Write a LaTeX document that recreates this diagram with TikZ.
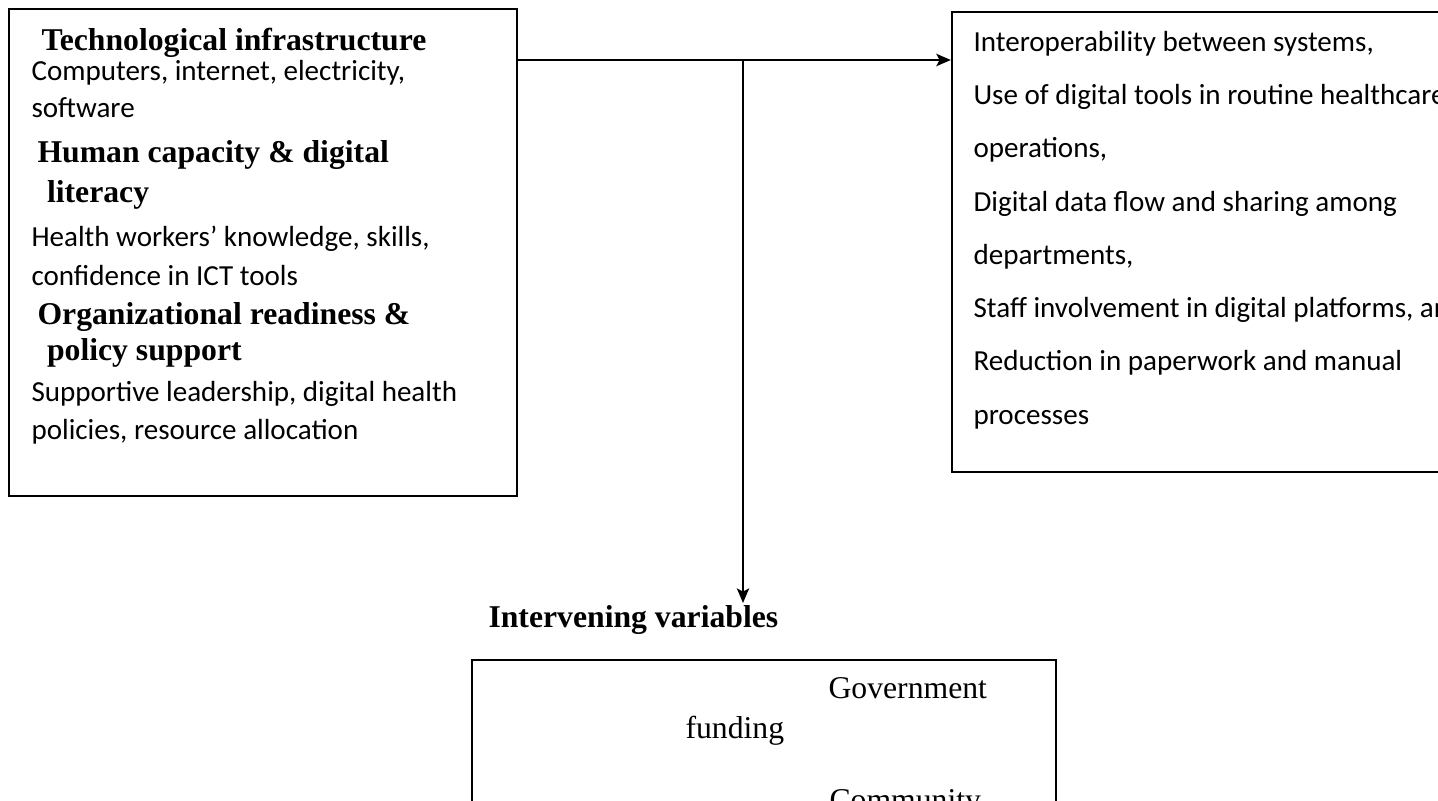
\documentclass[tikz,border=0pt]{standalone}
\usepackage{fontspec}
\setmainfont{Liberation Serif}
\newfontfamily\calibrifont{Carlito}
\usetikzlibrary{arrows.meta,fit}
\begin{document}
\begin{tikzpicture}[x=0.3785pt,y=-0.3785pt,
  boxline/.style={draw=black, line width=0.8pt, inner sep=0pt},
  cal/.style={anchor=base west, inner sep=0pt, font=\calibrifont\fontsize{11}{13}\selectfont},
  hd/.style={anchor=base west, inner sep=0pt, font=\fontsize{12}{14}\selectfont\bfseries},
  tm/.style={anchor=base west, inner sep=0pt, font=\fontsize{12}{14}\selectfont},
  conn/.style={line width=0.9pt, -{Stealth[length=5.5pt,width=4.6pt,inset=1.2pt]}}]
\useasboundingbox (0,0) rectangle (1438,801);
\clip (0,0) rectangle (1438,801);
% boxes
\coordinate (L1) at (9,9); \coordinate (L2) at (517,496);
\node[boxline, fit=(L1)(L2)] (L) {};
\coordinate (R1) at (952,12); \coordinate (R2) at (1480,472);
\node[boxline, fit=(R1)(R2)] (R) {};
\coordinate (B1) at (472,660); \coordinate (B2) at (1056,850);
\node[boxline, fit=(B1)(B2)] (B) {};
% left box text
\node[hd]  (l1)  at (41,51)   {Technological infrastructure};
\node[cal] (l2)  at (31,81)   {Computers, internet, electricity,};
\node[cal] (l3)  at (31,118)  {software};
\node[hd]  (l4)  at (37,162)  {Human capacity \& digital};
\node[hd]  (l5)  at (46.5,203){literacy};
\node[cal] (l6)  at (31,246)  {Health workers’ knowledge, skills,};
\node[cal] (l7)  at (31,285)  {confidence in ICT tools};
\node[hd]  (l8)  at (37,324)  {Organizational readiness \&};
\node[hd]  (l9)  at (46.5,360){policy support};
\node[cal] (l10) at (31,401)  {Supportive leadership, digital health};
\node[cal] (l11) at (31,439)  {policies, resource allocation};
% right box text
\node[cal] (r1) at (973,52)  {Interoperability between systems,};
\node[cal] (r2) at (973,105) {Use of digital tools in routine healthcare};
\node[cal] (r3) at (973,158) {operations,};
\node[cal] (r4) at (973,211) {Digital data flow and sharing among};
\node[cal] (r5) at (973,264) {departments,};
\node[cal] (r6) at (973,317) {Staff involvement in digital platforms, and};
\node[cal] (r7) at (973,370) {Reduction in paperwork and manual};
\node[cal] (r8) at (973,424) {processes};
% intervening
\node[hd] (iv) at (488,627) {Intervening variables};
\node[tm] (b1) at (828,698) {Government};
\node[tm] (b2) at (685,738) {funding};
\node[tm] (b3) at (829,810) {Community};
% connectors
\coordinate (j) at (743,60);
\coordinate (tip) at (743,603);
\draw[conn] (L.east |- j) -- (R.west |- j);
\draw[conn] (j) -- (tip);
\end{tikzpicture}
\end{document}
